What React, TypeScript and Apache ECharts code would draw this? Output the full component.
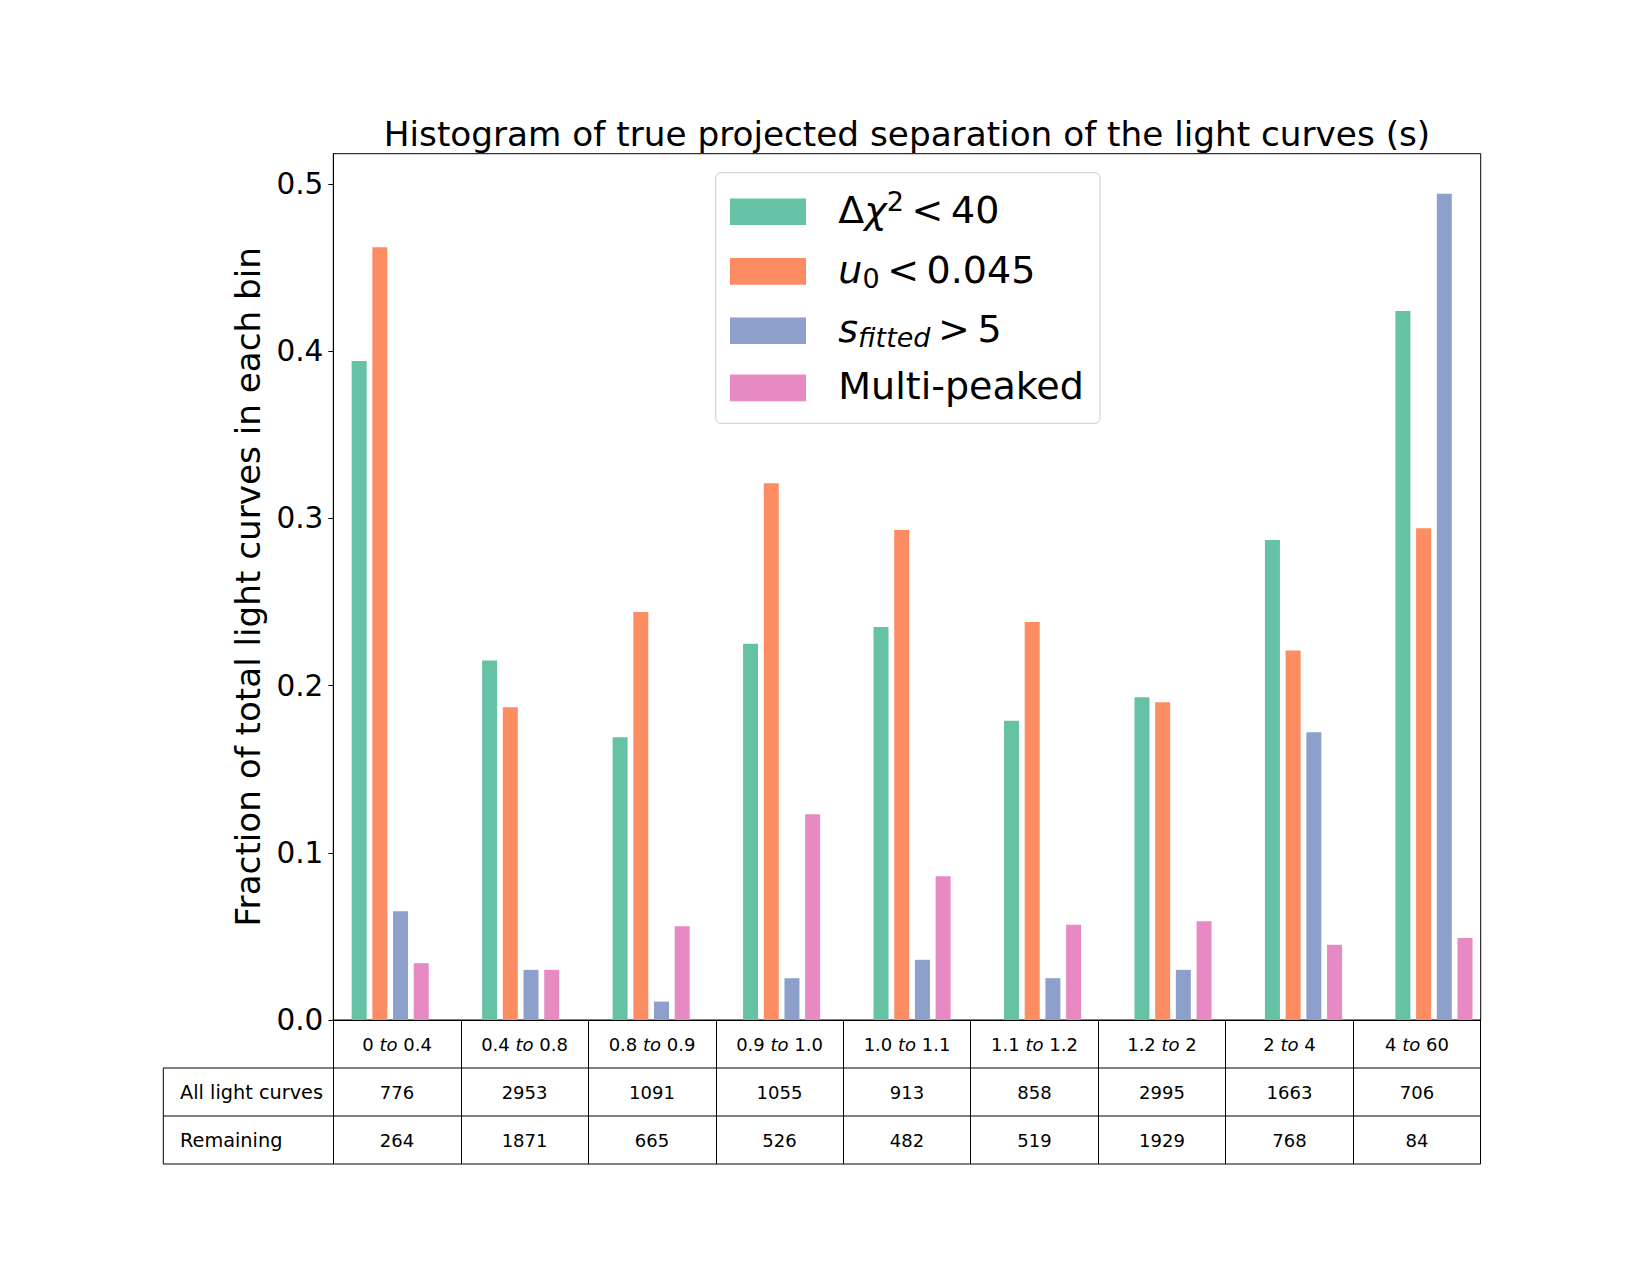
import React, { useEffect, useRef } from "react";
import * as echarts from "echarts";

// Bin edges of the true projected separation s
const binLow = ["0", "0.4", "0.8", "0.9", "1.0", "1.1", "1.2", "2", "4"];
const binHigh = ["0.4", "0.8", "0.9", "1.0", "1.1", "1.2", "2", "4", "60"];

// Table rows under the axis
const rowLabels = ["All light curves", "Remaining"];
const allCurves = [776, 2953, 1091, 1055, 913, 858, 2995, 1663, 706];
const remaining = [264, 1871, 665, 526, 482, 519, 1929, 768, 84];

// Fraction of total light curves in each bin, per selection criterion
const deltaChi2 = [0.394, 0.215, 0.169, 0.225, 0.235, 0.179, 0.193, 0.287, 0.424];
const u0Small = [0.462, 0.187, 0.244, 0.321, 0.293, 0.238, 0.19, 0.221, 0.294];
const sFittedLarge = [0.065, 0.03, 0.011, 0.025, 0.036, 0.025, 0.03, 0.172, 0.494];
const multiPeaked = [0.034, 0.03, 0.056, 0.123, 0.086, 0.057, 0.059, 0.045, 0.049];

const yTicks = [0, 0.1, 0.2, 0.3, 0.4, 0.5];

const seriesNames = ["Δχ² < 40", "u₀ < 0.045", "s_fitted > 5", "Multi-peaked"];
// thin spaces around the relations, as in math typesetting
const legendRich = [
  "{r|Δ}{i|χ}{sup|2}{r|\u2009<\u200940}",
  "{i|u}{sub|0}{r|\u2009<\u20090.045}",
  "{i|s}{subi|fitted}{r|\u2009>\u20095}",
  "{r|Multi-peaked}",
];
const palette = ["#66c2a5", "#fc8d62", "#8da0cb", "#e78ac3"];

const titleText = "Histogram of true projected separation of the light curves (s)";
const yLabelText = "Fraction of total light curves in each bin";

const FONT = "DejaVu Sans";

export default function App() {
  const ref = useRef<HTMLDivElement>(null);

  useEffect(() => {
    if (!ref.current) return;
    const chart = echarts.init(ref.current, null, { renderer: "svg" });

    // axes frame
    const frameL = 333.3;
    const frameT = 153.7;
    const frameR = 1480.7;
    const frameB = 1020;
    const yMax = 0.518;
    // bar band layout (bars sit on their own evenly spaced slots)
    const band = 130.47;
    const barsLeft = 390.2 - band / 2;

    // table geometry
    const rowH = 48;
    const tableLeft = 163.3;

    const categories = binLow.map((lo, i) => `${lo} to ${binHigh[i]}`);
    const values = [deltaChi2, u0Small, sFittedLarge, multiPeaked];

    const legendY = [211.7, 271.3, 330.7, 387.9];
    const legendGraphics: any[] = [
      {
        type: "rect",
        shape: { x: 715.7, y: 172.7, width: 384.3, height: 250.6, r: 5 },
        style: { fill: "rgba(255,255,255,0.8)", stroke: "#cccccc", lineWidth: 1 },
        z: 10,
      },
    ];
    const mainTok = { fontSize: 38, fontFamily: FONT, fill: "#000", lineHeight: 44 };
    legendRich.forEach((txt, i) => {
      legendGraphics.push({
        type: "rect",
        shape: { x: 730, y: legendY[i] - 13.3, width: 76, height: 26.7 },
        style: { fill: palette[i] },
        z: 11,
      });
      legendGraphics.push({
        type: "text",
        x: 838.3,
        y: legendY[i] - 1.5,
        z: 11,
        style: {
          text: txt,
          align: "left",
          verticalAlign: "middle",
          fontFamily: FONT,
          fontSize: 38,
          fill: "#000",
          rich: {
            r: mainTok,
            i: { ...mainTok, fontStyle: "italic" },
            sup: { fontSize: 27, fontFamily: FONT, fill: "#000", lineHeight: 30, verticalAlign: "top" },
            sub: { fontSize: 27, fontFamily: FONT, fill: "#000", lineHeight: 24, verticalAlign: "bottom" },
            subi: {
              fontSize: 27,
              fontFamily: FONT,
              fontStyle: "italic",
              fill: "#000",
              lineHeight: 24,
              verticalAlign: "bottom",
            },
          },
        },
      });
    });

    const tableLines: any[] = [1, 2, 3].map((k) => ({
      type: "line",
      shape: { x1: tableLeft, y1: frameB + k * rowH, x2: frameR, y2: frameB + k * rowH },
      style: { stroke: "#000", lineWidth: 1 },
    }));
    tableLines.push({
      type: "line",
      shape: { x1: tableLeft, y1: frameB + rowH, x2: tableLeft, y2: frameB + 3 * rowH },
      style: { stroke: "#000", lineWidth: 1 },
    });
    const rowTexts = rowLabels.map((t, k) => ({
      type: "text",
      x: 180,
      y: frameB + rowH * (k + 1.5),
      style: { text: t, fontFamily: FONT, fontSize: 19.3, fill: "#000", align: "left", verticalAlign: "middle" },
    }));

    const cellTok = { fontSize: 18, fontFamily: FONT, color: "#000", lineHeight: rowH, align: "center" as const };

    chart.setOption({
      animation: false,
      backgroundColor: "#ffffff",
      grid: [
        { left: barsLeft, top: frameT, width: band * 9, height: frameB - frameT },
        {
          left: frameL,
          top: frameT,
          width: frameR - frameL,
          height: frameB - frameT,
          show: true,
          borderColor: "#000",
          borderWidth: 1,
          backgroundColor: "transparent",
        },
      ],
      xAxis: [
        {
          type: "category",
          gridIndex: 0,
          data: categories,
          show: false,
        },
        {
          type: "category",
          gridIndex: 1,
          data: categories,
          axisLine: { show: true, lineStyle: { color: "#000", width: 1 } },
          axisTick: { show: true, interval: 0, length: 3 * rowH, inside: false, lineStyle: { color: "#000", width: 1 } },
          axisLabel: {
            interval: 0,
            margin: 0,
            formatter: (_v: string, i: number) =>
              `{n|${binLow[i]} }{it|to}{n| ${binHigh[i]}}\n{n|${allCurves[i]}}\n{n|${remaining[i]}}`,
            rich: { n: cellTok, it: { ...cellTok, fontStyle: "italic" } },
          },
        },
      ],
      yAxis: [
        { type: "value", gridIndex: 0, min: 0, max: yMax, show: false, splitLine: { show: false } },
        {
          type: "value",
          gridIndex: 1,
          min: 0,
          max: yMax,
          splitLine: { show: false },
          axisLine: { show: true, lineStyle: { color: "#000", width: 1 } },
          axisTick: { show: true, length: 5, inside: false, customValues: yTicks, lineStyle: { color: "#000", width: 1 } },
          axisLabel: {
            customValues: yTicks,
            formatter: (v: number) => v.toFixed(1),
            fontSize: 29.5,
            fontFamily: FONT,
            color: "#000",
            margin: 10,
          },
        },
      ],
      series: values.map((data, k) => ({
        type: "bar",
        name: seriesNames[k],
        xAxisIndex: 0,
        yAxisIndex: 0,
        data,
        barWidth: 15,
        barGap: "38%",
        itemStyle: { color: palette[k] },
      })),
      graphic: [
        {
          type: "text",
          x: (frameL + frameR) / 2,
          y: 134,
          style: { text: titleText, fontFamily: FONT, fontSize: 34.25, fill: "#000", align: "center", verticalAlign: "middle" },
        },
        {
          type: "text",
          x: 248,
          y: (frameT + frameB) / 2,
          rotation: Math.PI / 2,
          style: { text: yLabelText, fontFamily: FONT, fontSize: 34.2, fill: "#000", align: "center", verticalAlign: "middle" },
        },
        ...tableLines,
        ...rowTexts,
        ...legendGraphics,
      ],
    });

    return () => chart.dispose();
  }, []);

  return (
    <div
      ref={ref}
      style={{ position: "absolute", left: 0, top: 0, width: 1650, height: 1275, background: "#fff" }}
    />
  );
}
